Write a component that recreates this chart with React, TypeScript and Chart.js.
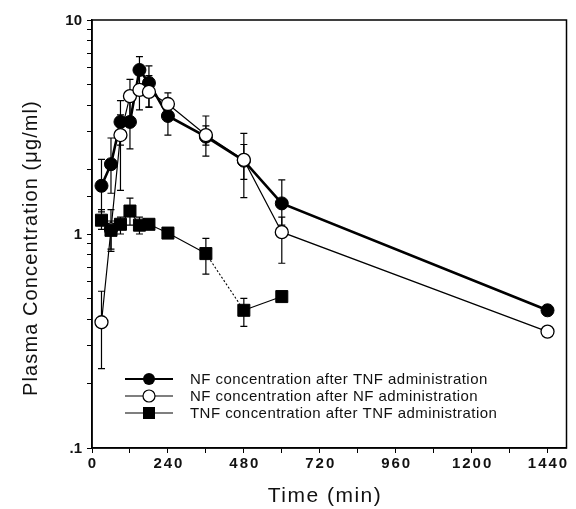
import React, { useEffect, useRef } from "react";
import { Chart, registerables } from "chart.js";

Chart.register(...registerables);

// ---- data ----
const TIMES = [30, 60, 90, 120, 150, 180, 240, 360, 480, 600, 1440];
const NF_AFTER_TNF = [1.68, 2.12, 3.34, 3.34, 5.84, 5.08, 3.56, 2.85, 2.2, 1.39, 0.44];
const NF_AFTER_TNF_HI = [2.23, 2.81, 4.2, 4.4, 6.74, 6.1, 4.2, 3.56, 2.95, 1.79, null];
const NF_AFTER_TNF_LO = [1.27, 1.55, 2.6, 2.5, 4.9, 3.93, 2.9, 2.31, 1.48, 1.1, null];

const NF_AFTER_NF = [0.387, 1.05, 2.9, 4.41, 4.71, 4.61, 4.05, 2.9, 2.22, 1.02, 0.35];
const NF_AFTER_NF_HI = [0.54, 1.3, 3.6, 5.28, 5.6, 5.5, 4.57, 3.2, 2.62, 1.2, null];
const NF_AFTER_NF_LO = [0.235, 0.85, 1.6, 3.5, 3.8, 3.9, 3.6, 2.6, 1.8, 0.73, null];

const TNF_TIMES = [30, 60, 90, 120, 150, 180, 240, 360, 480, 600];
const TNF_AFTER_TNF = [1.16, 1.04, 1.11, 1.28, 1.1, 1.11, 1.01, 0.81, 0.44, 0.51];
const TNF_AFTER_TNF_HI = [1.3, 1.15, 1.2, 1.47, 1.2, 1.15, null, 0.955, 0.5, null];
const TNF_AFTER_TNF_LO = [1.05, 0.83, 1.0, 1.1, 1.0, 1.05, null, 0.65, 0.37, null];

const X_LABELS = [0, 240, 480, 720, 960, 1200, 1440];
const Y_LABELS: [number, string][] = [
  [10, "10"],
  [1, "1"],
  [0.1, ".1"],
];
const LEGEND_LABELS = [
  "NF concentration after TNF administration",
  "NF concentration after NF administration",
  "TNF concentration after TNF administration",
];
const X_TITLE = "Time (min)";
const Y_TITLE = "Plasma Concentration (\u03bcg/ml)";

const toPts = (xs: number[], ys: number[]) => xs.map((x, i) => ({ x, y: ys[i] }));

const errorBars = {
  id: "errorBars",
  beforeDatasetsDraw(chart: any) {
    const ctx = chart.ctx;
    const xs = chart.scales.x;
    const ys = chart.scales.y;
    ctx.save();
    ctx.strokeStyle = "#000";
    ctx.lineWidth = 1.2;
    chart.data.datasets.forEach((ds: any) => {
      const hi = ds.errHi as (number | null)[];
      const lo = ds.errLo as (number | null)[];
      ds.data.forEach((p: any, i: number) => {
        const px = xs.getPixelForValue(p.x);
        const py = ys.getPixelForValue(p.y);
        const cap = 3.5;
        [hi[i], lo[i]].forEach((v) => {
          if (v == null) return;
          const t = ys.getPixelForValue(v);
          ctx.beginPath();
          ctx.moveTo(px, py);
          ctx.lineTo(px, t);
          ctx.moveTo(px - cap, t);
          ctx.lineTo(px + cap, t);
          ctx.stroke();
        });
      });
    });
    ctx.restore();
  },
};

const decorations = {
  id: "decorations",
  afterDraw(chart: any) {
    const ctx = chart.ctx;
    const xs = chart.scales.x;
    const ys = chart.scales.y;
    const a = chart.chartArea;
    ctx.save();
    // frame
    ctx.strokeStyle = "#000";
    ctx.lineWidth = 1.5;
    ctx.strokeRect(a.left, a.top, a.right - a.left, a.bottom - a.top);

    ctx.fillStyle = "#111";
    // x tick labels
    ctx.font = "bold 15px 'Liberation Sans', Arial, sans-serif";
    (ctx as any).letterSpacing = "2px";
    ctx.textAlign = "center";
    ctx.textBaseline = "middle";
    X_LABELS.forEach((v) => {
      ctx.fillText(String(v), xs.getPixelForValue(v) + 1, 464);
    });
    // y tick labels
    (ctx as any).letterSpacing = "0px";
    ctx.textAlign = "right";
    Y_LABELS.forEach(([v, s]) => {
      ctx.fillText(s, 82, ys.getPixelForValue(v) + 1);
    });
    // x title
    ctx.font = "21px 'Liberation Sans', Arial, sans-serif";
    (ctx as any).letterSpacing = "1.5px";
    ctx.textAlign = "center";
    ctx.fillText(X_TITLE, 325, 496);
    // y title
    ctx.save();
    ctx.translate(31, 248);
    ctx.rotate(-Math.PI / 2);
    ctx.font = "20px 'Liberation Sans', Arial, sans-serif";
    (ctx as any).letterSpacing = "1.1px";
    ctx.fillText(Y_TITLE, 0, 0);
    ctx.restore();

    // legend
    (ctx as any).letterSpacing = "0.45px";
    ctx.font = "15px 'Liberation Sans', Arial, sans-serif";
    ctx.textAlign = "left";
    const rows = [379, 396, 413];
    const mx = 149;
    rows.forEach((ry, i) => {
      ctx.strokeStyle = "#000";
      ctx.lineWidth = i === 0 ? 2.2 : 1.2;
      ctx.beginPath();
      ctx.moveTo(125, ry);
      ctx.lineTo(173, ry);
      ctx.stroke();
      ctx.lineWidth = 1.2;
      if (i === 0) {
        ctx.fillStyle = "#000";
        ctx.beginPath();
        ctx.arc(mx, ry, 6, 0, Math.PI * 2);
        ctx.fill();
      } else if (i === 1) {
        ctx.fillStyle = "#fff";
        ctx.beginPath();
        ctx.arc(mx, ry, 6, 0, Math.PI * 2);
        ctx.fill();
        ctx.stroke();
      } else {
        ctx.fillStyle = "#000";
        ctx.fillRect(mx - 6, ry - 6, 12, 12);
      }
      ctx.fillStyle = "#111";
      ctx.fillText(LEGEND_LABELS[i], 190, ry + 1);
    });
    ctx.restore();
  },
};

export default function App() {
  const ref = useRef<HTMLCanvasElement | null>(null);
  useEffect(() => {
    if (!ref.current) return;
    const chart = new Chart(ref.current, {
      type: "scatter",
      data: {
        datasets: [
          {
            label: LEGEND_LABELS[2],
            data: toPts(TNF_TIMES, TNF_AFTER_TNF),
            showLine: true,
            borderColor: "#000",
            borderWidth: 1.1,
            pointStyle: "rect",
            pointRadius: 8.5,
            pointBackgroundColor: "#000",
            pointBorderColor: "#000",
            pointBorderWidth: 1,
            segment: {
              borderDash: (c: any) => (c.p0DataIndex === 7 ? [2, 2] : undefined),
            },
            errHi: TNF_AFTER_TNF_HI,
            errLo: TNF_AFTER_TNF_LO,
          } as any,
          {
            label: LEGEND_LABELS[1],
            data: toPts(TIMES, NF_AFTER_NF),
            showLine: true,
            borderColor: "#000",
            borderWidth: 1.2,
            pointStyle: "circle",
            pointRadius: 6.5,
            pointBackgroundColor: "#fff",
            pointBorderColor: "#000",
            pointBorderWidth: 1.3,
            errHi: NF_AFTER_NF_HI,
            errLo: NF_AFTER_NF_LO,
          } as any,
          {
            label: LEGEND_LABELS[0],
            data: toPts(TIMES, NF_AFTER_TNF),
            showLine: true,
            borderColor: "#000",
            borderWidth: 2.6,
            pointStyle: "circle",
            pointRadius: 6.5,
            pointBackgroundColor: "#000",
            pointBorderColor: "#000",
            pointBorderWidth: 1,
            errHi: NF_AFTER_TNF_HI,
            errLo: NF_AFTER_TNF_LO,
          } as any,
        ],
      },
      options: {
        responsive: false,
        animation: false,
        layout: { padding: { top: 20, right: 5, left: 0, bottom: 0 } },
        plugins: {
          legend: { display: false },
          tooltip: { enabled: false },
        },
        scales: {
          x: {
            type: "linear",
            min: 0,
            max: 1500,
            ticks: { stepSize: 120, display: false, includeBounds: false },
            grid: {
              display: true,
              drawOnChartArea: false,
              drawTicks: true,
              tickLength: 5,
              color: "#000",
              lineWidth: 1,
            },
            border: { display: true, color: "#000", width: 1.5 },
            afterFit: (s: any) => {
              s.height = 61;
            },
          },
          y: {
            type: "logarithmic",
            min: 0.1,
            max: 10,
            ticks: { display: false },
            grid: {
              display: true,
              drawOnChartArea: false,
              drawTicks: true,
              tickLength: 5,
              color: "#000",
              lineWidth: 1,
            },
            border: { display: true, color: "#000", width: 1.5 },
            afterFit: (s: any) => {
              s.width = 92;
            },
          },
        },
      } as any,
      plugins: [errorBars, decorations],
    });
    return () => chart.destroy();
  }, []);
  return (
    <div style={{ position: "absolute", left: 0, top: 0, width: 576, height: 509, background: "#fff" }}>
      <canvas ref={ref} width={576} height={509} style={{ display: "block" }} />
    </div>
  );
}
